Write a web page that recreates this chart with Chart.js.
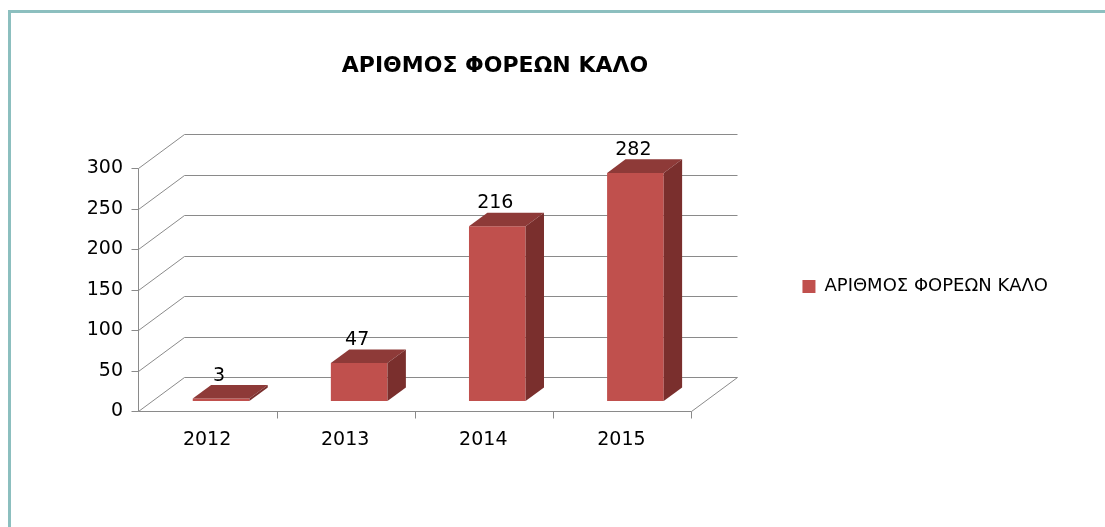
<!DOCTYPE html>
<html lang="el">
<head>
<meta charset="UTF-8">
<title>ΑΡΙΘΜΟΣ ΦΟΡΕΩΝ ΚΑΛΟ</title>
<script src="https://cdn.jsdelivr.net/npm/chart.js"></script>
<style>
  html, body { margin: 0; padding: 0; background: #fff; overflow: hidden; }
  .frame { position: absolute; left: 8px; top: 10px; width: 1200px; height: 600px;
           border-top: 3px solid #8cbfbf; border-left: 3px solid #8cbfbf; }
  #chart { position: absolute; left: 0; top: 0; }
</style>
</head>
<body>
<div class="frame"></div>
<canvas id="chart" width="1105" height="527"></canvas>
<script>
const years = ['2012', '2013', '2014', '2015'];
const counts = [3, 47, 216, 282];
const yTicks = [0, 50, 100, 150, 200, 250, 300];
const seriesName = 'ΑΡΙΘΜΟΣ ΦΟΡΕΩΝ ΚΑΛΟ';

// 3d look: offset from front edge to back wall, in px
const DEPTH_X = 46, DEPTH_Y = -34;
const FRONT = 10 / 34;     // share of the depth in front of the bars
const BAR_DEPTH = 0.4;     // bar depth as share of the whole depth
const family = '"DejaVu Sans", "Liberation Sans", sans-serif';
const legendSize = 18, legendPad = 98;

// plot area wanted: x 152..704, title centred on x=495
const plotLeft = 152, plotRight = 704, titleCenter = 495;
const meas = document.createElement('canvas').getContext('2d');
meas.font = legendSize + 'px ' + family;
const legendW = Math.ceil(legendPad + 13 + legendSize / 2 + meas.measureText(seriesName).width + 10);
const padRight = 1105 - plotRight - legendW;
const padLeft = 2 * titleCenter - (1105 - padRight);

const c = v => Math.round(v) + 0.5;

const box3d = {
  id: 'box3d',
  beforeDatasetsDraw(chart) {
    const { ctx, chartArea, scales: { y } } = chart;
    const fx = -DEPTH_X * FRONT, fy = -DEPTH_Y * FRONT;
    const bx = DEPTH_X * (1 - FRONT), by = DEPTH_Y * (1 - FRONT);
    const left = chartArea.left, right = chartArea.right;
    const base = y.getPixelForValue(0);
    const top = y.getPixelForValue(yTicks[yTicks.length - 1]);
    ctx.save();
    ctx.strokeStyle = '#8a8a8a';
    ctx.lineWidth = 1;
    ctx.beginPath();
    yTicks.forEach(v => {
      const py = y.getPixelForValue(v);
      ctx.moveTo(c(left + fx) - 7, c(py + fy));
      ctx.lineTo(c(left + fx), c(py + fy));
      ctx.lineTo(c(left + bx), c(py + by));
      ctx.lineTo(c(right + bx), c(py + by));
    });
    ctx.moveTo(c(left + fx), c(top + fy));
    ctx.lineTo(c(left + fx), c(base + fy));
    ctx.lineTo(c(right + fx), c(base + fy));
    ctx.lineTo(c(right + bx), c(base + by));
    for (let i = 1; i <= years.length; i++) {
      const px = c(left + fx + (right - left) * i / years.length);
      ctx.moveTo(px, c(base + fy));
      ctx.lineTo(px, c(base + fy) + 7);
    }
    ctx.stroke();
    ctx.restore();
  },
  afterDatasetsDraw(chart) {
    const { ctx } = chart;
    const dx = DEPTH_X * BAR_DEPTH, dy = DEPTH_Y * BAR_DEPTH;
    const meta = chart.getDatasetMeta(0);
    ctx.save();
    meta.data.forEach((bar, i) => {
      const l = bar.x - bar.width / 2, r = bar.x + bar.width / 2;
      // top face
      ctx.fillStyle = '#8e3a38';
      ctx.beginPath();
      ctx.moveTo(l, bar.y);
      ctx.lineTo(r, bar.y);
      ctx.lineTo(r + dx, bar.y + dy);
      ctx.lineTo(l + dx, bar.y + dy);
      ctx.closePath();
      ctx.fill();
      // side face
      ctx.fillStyle = '#7a2f2d';
      ctx.beginPath();
      ctx.moveTo(r, bar.y);
      ctx.lineTo(r + dx, bar.y + dy);
      ctx.lineTo(r + dx, bar.base + dy);
      ctx.lineTo(r, bar.base);
      ctx.closePath();
      ctx.fill();
      // value label
      ctx.fillStyle = '#000';
      ctx.font = '19px ' + family;
      ctx.textAlign = 'center';
      ctx.textBaseline = 'middle';
      ctx.fillText(String(counts[i]), bar.x - 2, bar.y - 23);
    });
    ctx.restore();
  }
};

new Chart(document.getElementById('chart'), {
  type: 'bar',
  data: {
    labels: years,
    datasets: [{
      label: seriesName,
      data: counts,
      backgroundColor: '#c0504d',
      borderWidth: 0,
      categoryPercentage: 1,
      barPercentage: 0.41
    }]
  },
  options: {
    responsive: false,
    animation: false,
    layout: { padding: { left: padLeft, right: padRight, top: 46, bottom: 0 } },
    scales: {
      x: {
        grid: { display: false, drawTicks: false },
        border: { display: false },
        ticks: { font: { family, size: 19 }, color: '#000', padding: 28, labelOffset: -14 },
        afterFit: s => { s.height = 126; }
      },
      y: {
        min: 0, max: 300,
        grid: { display: false, drawTicks: false },
        border: { display: false },
        ticks: { font: { family, size: 19 }, color: '#000', padding: 29, labelOffset: 10 },
        afterBuildTicks: s => { s.ticks = yTicks.map(v => ({ value: v })); },
        afterFit: s => { s.width = plotLeft - padLeft; }
      }
    },
    plugins: {
      title: {
        display: true,
        text: seriesName,
        color: '#000',
        font: { family, size: 22, weight: 'bold' },
        padding: { top: 7, bottom: 79 }
      },
      legend: {
        position: 'right',
        maxWidth: legendW,
        labels: { boxWidth: 13, boxHeight: 13, padding: legendPad, color: '#000', font: { family, size: legendSize } }
      },
      tooltip: { enabled: false }
    }
  },
  plugins: [box3d]
});
</script>
</body>
</html>
